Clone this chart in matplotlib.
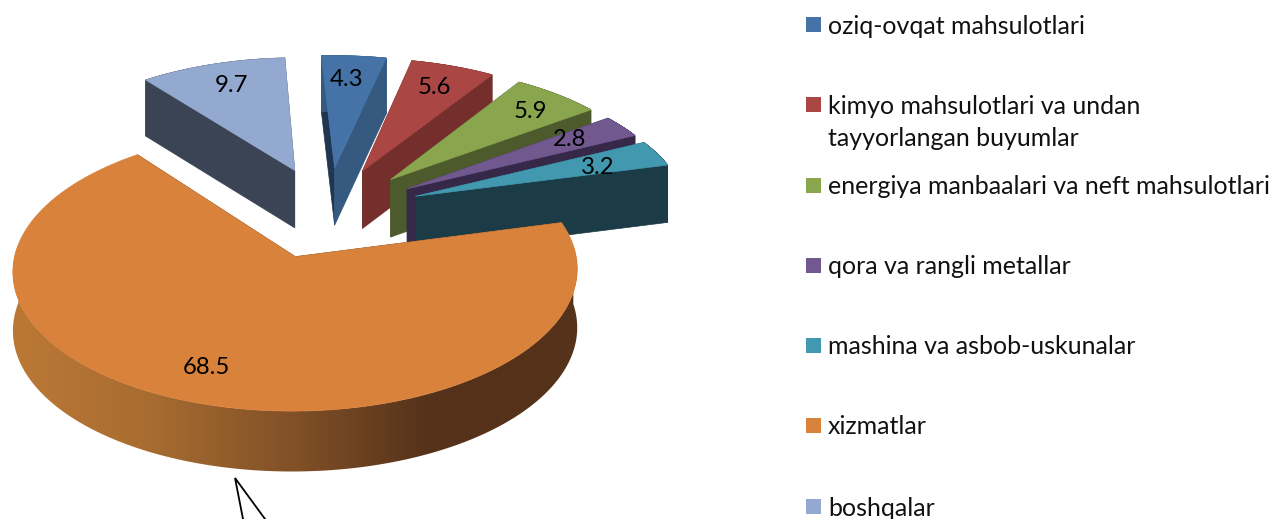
import numpy as np
import matplotlib
matplotlib.use("Agg")
import matplotlib.pyplot as plt
from matplotlib.patches import Polygon, Rectangle
from matplotlib.collections import PolyCollection

# ------------------ DATA ------------------

labels = [
    "oziq-ovqat mahsulotlari",
    "kimyo mahsulotlari va undan\ntayyorlangan buyumlar",
    "energiya manbaalari va neft mahsulotlari",
    "qora va rangli metallar",
    "mashina va asbob-uskunalar",
    "xizmatlar",
    "boshqalar",
]
values = [4.3, 5.6, 5.9, 2.8, 3.2, 68.5, 9.7]

# ------------------ STYLE ------------------

top_colors = ["#4573a7", "#aa4644", "#89a54e", "#71588f", "#4298af", "#d9823c", "#93a9cf"]
end_wall_colors = ["#35597f", "#742e2c", "#4c5a2c", "#352849", "#1b3b47", "#56321a", "#3a4454"]
start_wall_colors = ["#1e3650", "#742e2c", "#4c5a2c", "#352849", "#1b3b47", "#56321a", "#3a4454"]
arc_colors = ["#35597f", "#742e2c", "#4c5a2c", "#352849", "#1b3b47", None, "#3a4454"]

label_pos = [(347, 80), (434, 87), (530, 112), (570, 140), (598, 168), (206, 367), (231, 86)]
legend_y = [26, 106, 187, 267, 347, 427, 508]
draw_order = [6, 0, 1, 2, 3, 4, 5]

# fake 3D camera, in pixels
CX, CY = 327, 212
RX, RY = 272, 130.7
PERSP = 0.0946
DEPTH_PERSP = 0.03
DEPTH = 58
EXPLODE = 0.35
START_ANGLE = -3

LINE_PITCH = 32


def project(ox, oy, theta, r=1.0, z=0.0):
    X = ox + r * np.sin(theta)
    Y = oy - r * np.cos(theta)
    w = 1 - PERSP * Y
    return CX + RX * X / w, CY + RY * Y / w + z / (1 - DEPTH_PERSP * Y)


def draw_gradient_wall(ax, pts):
    # only the big slice has a shaded outer wall
    xs = [17, 150, 300, 430, 578]
    cols = np.array([[187, 120, 53], [168, 108, 49], [127, 79, 38], [85, 50, 26], [85, 50, 26]]) / 255
    grid = np.linspace(xs[0] - 10, xs[-1] + 10, 600)
    row = np.stack([np.interp(grid, xs, cols[:, i]) for i in range(3)], axis=-1)[np.newaxis, :, :]
    shape = Polygon(pts, fc="none", ec="none")
    ax.add_patch(shape)
    img = ax.imshow(row, extent=[grid[0], grid[-1], 519, 200], aspect="auto", zorder=1,
                    interpolation="bilinear")
    img.set_clip_path(shape)
    ax.set_xlim(0, 1275)
    ax.set_ylim(519, 0)


def draw_slice(ax, i, a0, a1):
    mid = (a0 + a1) / 2
    ox, oy = EXPLODE * np.sin(mid), -EXPLODE * np.cos(mid)
    thetas = np.linspace(a0, a1, 200)

    top_x, top_y = project(ox, oy, thetas)
    bot_x, bot_y = project(ox, oy, thetas, z=DEPTH)
    ax_, ay_ = project(ox, oy, 0.0, r=0.0)
    bx_, by_ = project(ox, oy, 0.0, r=0.0, z=DEPTH)

    # radial walls
    ax.add_patch(Polygon([(ax_, ay_), (top_x[0], top_y[0]), (bot_x[0], bot_y[0]), (bx_, by_)],
                         fc=start_wall_colors[i], ec=start_wall_colors[i], lw=0.5, zorder=1))
    ax.add_patch(Polygon([(ax_, ay_), (top_x[-1], top_y[-1]), (bot_x[-1], bot_y[-1]), (bx_, by_)],
                         fc=end_wall_colors[i], ec=end_wall_colors[i], lw=0.5, zorder=1))

    # outer wall
    if arc_colors[i] is None:
        front = np.cos(thetas) <= 0.1
        pts = list(zip(top_x[front], top_y[front])) + list(zip(bot_x[front][::-1], bot_y[front][::-1]))
        draw_gradient_wall(ax, pts)
    else:
        quads = [[(top_x[k], top_y[k]), (top_x[k + 1], top_y[k + 1]),
                  (bot_x[k + 1], bot_y[k + 1]), (bot_x[k], bot_y[k])] for k in range(len(thetas) - 1)]
        ax.add_collection(PolyCollection(quads, facecolors=arc_colors[i], edgecolors=arc_colors[i],
                                         linewidths=0.5, zorder=1))

    # top face
    pts = [(ax_, ay_)] + list(zip(top_x, top_y))
    ax.add_patch(Polygon(pts, fc=top_colors[i], ec=top_colors[i], lw=0.5, zorder=1))


# ------------------ FIGURE ------------------

plt.rcParams["font.family"] = ["Lato", "DejaVu Sans"]

fig = plt.figure(figsize=(12.75, 5.19), dpi=100)
ax = fig.add_axes([0, 0, 1, 1])
ax.set_xlim(0, 1275)
ax.set_ylim(519, 0)
ax.axis("off")

edges = np.radians(START_ANGLE + np.concatenate([[0], np.cumsum(values)]) / sum(values) * 360)
for i in draw_order:
    draw_slice(ax, i, edges[i], edges[i + 1])

for v, (x, y) in zip(values, label_pos):
    ax.text(x, y, str(v), ha="center", va="center", fontsize=17.2, color="black", zorder=3)

for lab, col, y in zip(labels, top_colors, legend_y):
    ax.add_patch(Rectangle((806, y - 9), 15, 15, fc=col, ec="none"))
    for n, line in enumerate(lab.split("\n")):
        ax.text(828, y + n * LINE_PITCH, line, ha="left", va="center", fontsize=18, color="#111111")

# callout pointer cut by the page edge
ax.plot([243, 235, 265], [519, 478, 519], color="black", lw=1.3, solid_joinstyle="miter")

fig.savefig("out.png", dpi=100)
plt.close(fig)
